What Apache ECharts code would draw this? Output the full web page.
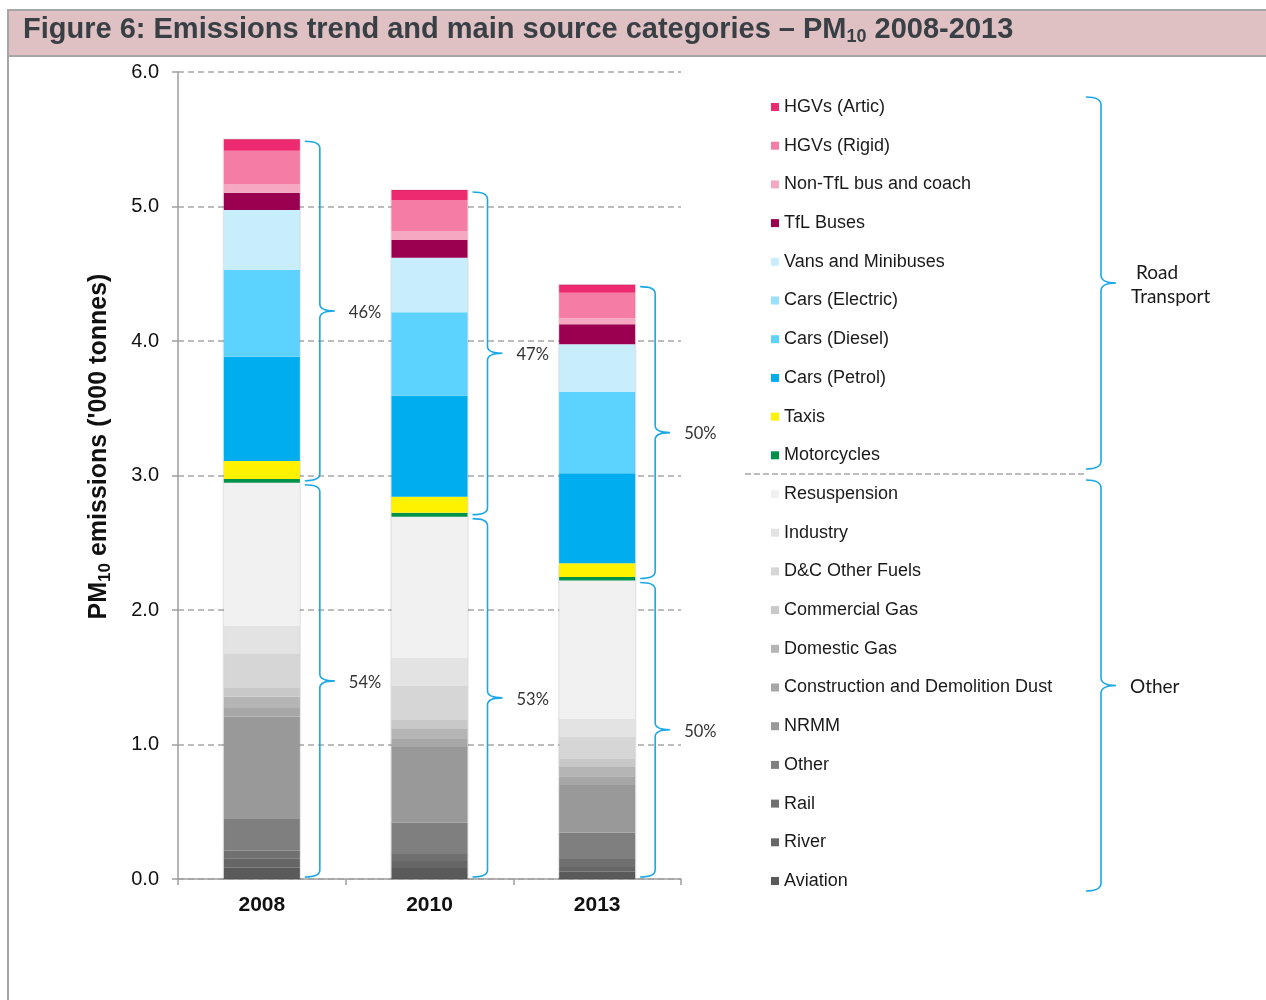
<!DOCTYPE html>
<html>
<head>
<meta charset="utf-8">
<script src="https://cdn.jsdelivr.net/npm/echarts/dist/echarts.min.js"></script>
<style>
  html, body { margin: 0; padding: 0; background: #ffffff; }
  #chart { width: 1266px; height: 1000px; }
</style>
</head>
<body>
<div id="chart"></div>
<script>
// PM10 emissions by source, '000 tonnes
const years = ['2008', '2010', '2013'];

const roadTransport = [
  'HGVs (Artic)', 'HGVs (Rigid)', 'Non-TfL bus and coach', 'TfL Buses',
  'Vans and Minibuses', 'Cars (Electric)', 'Cars (Diesel)', 'Cars (Petrol)',
  'Taxis', 'Motorcycles'
];
const otherSources = [
  'Resuspension', 'Industry', 'D&C Other Fuels', 'Commercial Gas', 'Domestic Gas',
  'Construction and Demolition Dust', 'NRMM', 'Other', 'Rail', 'River', 'Aviation'
];

// values listed in the same order as roadTransport, then otherSources
const pm2008 = [0.085, 0.248, 0.064, 0.129, 0.446, 0, 0.645, 0.775, 0.134, 0.028,
                1.063, 0.205, 0.253, 0.070, 0.084, 0.064, 0.761, 0.236, 0.056, 0.070, 0.084];
const pm2010 = [0.075, 0.230, 0.067, 0.132, 0.406, 0, 0.620, 0.751, 0.119, 0.029,
                1.051, 0.208, 0.253, 0.062, 0.079, 0.060, 0.562, 0.233, 0.052, 0.052, 0.082];
const pm2013 = [0.060, 0.190, 0.045, 0.149, 0.354, 0, 0.605, 0.669, 0.102, 0.026,
                1.029, 0.134, 0.164, 0.059, 0.069, 0.065, 0.355, 0.195, 0.060, 0.035, 0.054];

const yTickLabels = ['0.0', '1.0', '2.0', '3.0', '4.0', '5.0', '6.0'];

const sourceColors = [
  '#ED2A6F', '#F57CA4', '#F6A8C3', '#9B0050', '#C8EEFC', '#9ADFFB', '#5CD2FF', '#00ADEE',
  '#FFF200', '#00914B',
  '#F1F1F1', '#E3E3E3', '#D6D6D6', '#C8C8C8', '#B5B5B5', '#A7A7A7', '#999999', '#7F7F7F',
  '#707070', '#666666', '#5A5A5A'
];

const sources = roadTransport.concat(otherSources);
const byYear = [pm2008, pm2010, pm2013];

const FONT = '"Liberation Sans", Arial, sans-serif';
const SIDE_FONT = '19px Lato, "Open Sans", sans-serif';
const BRACE_BLUE = '#1CA8E6';

// totals and road / other shares for each year
const sum = a => a.reduce((s, v) => s + v, 0);
const shares = byYear.map((vals, i) => {
  const road = sum(vals.slice(0, roadTransport.length));
  const other = sum(vals.slice(roadTransport.length));
  const total = road + other;
  return {
    i, road, other, total,
    roadPct: Math.round(road / total * 100),
    otherPct: Math.round(other / total * 100)
  };
});

// curly brace opening to the left, pointing right at its middle
function bracePath(xHook, xLine, xTip, top, bot, r) {
  const mid = (top + bot) / 2;
  return [
    'M', xHook, top,
    'Q', xLine, top, xLine, top + r,
    'L', xLine, mid - r,
    'Q', xLine, mid, xTip, mid,
    'Q', xLine, mid, xLine, mid + r,
    'L', xLine, bot - r,
    'Q', xLine, bot, xHook, bot
  ].join(' ');
}

function braceShape(xHook, xLine, xTip, top, bot, r) {
  return {
    type: 'path',
    shape: { pathData: bracePath(xHook, xLine, xTip, top, bot, r) },
    style: { fill: null, stroke: BRACE_BLUE, lineWidth: 1.6 }
  };
}

// stacked bars: first series sits at the bottom of the stack
const barSeries = sources.slice().reverse().map(name => {
  const k = sources.indexOf(name);
  return {
    name,
    type: 'bar',
    stack: 'pm10',
    barWidth: 76,
    itemStyle: { color: sourceColors[k] },
    emphasis: { disabled: true },
    data: byYear.map(vals => vals[k])
  };
});

// faint frame around each full bar
const frameSeries = {
  name: 'frame',
  type: 'custom',
  z: 3,
  silent: true,
  encode: { x: 0, y: 1 },
  data: shares.map(s => [s.i, s.total]),
  renderItem: (params, api) => {
    const p0 = api.coord([api.value(0), 0]);
    const p1 = api.coord([api.value(0), api.value(1)]);
    return {
      type: 'rect',
      shape: { x: p0[0] - 38.5, y: p1[1], width: 77, height: p0[1] - p1[1] },
      style: { fill: null, stroke: 'rgba(0,0,0,0.09)', lineWidth: 1.5 }
    };
  }
};

// braces beside each bar with the share of each group
const braceData = [];
shares.forEach(s => {
  braceData.push([s.i, s.other, s.total, s.roadPct]);
  braceData.push([s.i, 0, s.other, s.otherPct]);
});
const braceSeries = {
  name: 'share',
  type: 'custom',
  z: 4,
  silent: true,
  encode: { x: 0, y: [1, 2] },
  data: braceData,
  renderItem: (params, api) => {
    const cat = api.value(0);
    const pHi = api.coord([cat, api.value(2)]);
    const pLo = api.coord([cat, api.value(1)]);
    const cx = pHi[0];
    const top = pHi[1] + 2;
    const bot = pLo[1] - 2;
    const mid = (top + bot) / 2;
    return {
      type: 'group',
      children: [
        braceShape(cx + 43, cx + 58, cx + 73, top, bot, 7),
        {
          type: 'text',
          style: {
            text: api.value(3) + '%',
            x: cx + 87, y: mid + 1.5,
            verticalAlign: 'middle', textAlign: 'left',
            font: '16.5px Lato, "Open Sans", sans-serif',
            fill: '#333333'
          }
        }
      ]
    };
  }
};

// group braces and captions beside the legend
const legendGroupSeries = {
  name: 'groups',
  type: 'custom',
  coordinateSystem: 'none',
  silent: true,
  data: [0],
  renderItem: () => ({
    type: 'group',
    children: [
      {
        type: 'line',
        shape: { x1: 745, y1: 474, x2: 1086, y2: 474 },
        style: { stroke: '#BDBDBD', lineWidth: 2, lineDash: [6, 3] }
      },
      braceShape(1086, 1101, 1116, 97, 469, 8),
      braceShape(1086, 1101, 1116, 480, 891, 8),
      { type: 'text', style: { text: 'Road', x: 1136, y: 273, font: SIDE_FONT, fill: '#1A1A1A', verticalAlign: 'middle' } },
      { type: 'text', style: { text: 'Transport', x: 1131, y: 297, font: SIDE_FONT, fill: '#1A1A1A', verticalAlign: 'middle' } },
      { type: 'text', style: { text: 'Other', x: 1130, y: 687, font: SIDE_FONT, fill: '#1A1A1A', verticalAlign: 'middle' } }
    ]
  })
};

const chart = echarts.init(document.getElementById('chart'), null, { renderer: 'canvas' });

chart.setOption({
  animation: false,
  backgroundColor: '#ffffff',
  title: {
    text: '{a|Figure 6: Emissions trend and main source categories – PM}{s|10}{a| 2008-2013}',
    left: 23,
    top: 13,
    padding: 0,
    textStyle: {
      rich: {
        a: { fontFamily: FONT, fontSize: 29, fontWeight: 'bold', color: '#394045', lineHeight: 33 },
        s: { fontFamily: FONT, fontSize: 18, fontWeight: 'bold', color: '#394045', lineHeight: 18, verticalAlign: 'bottom' }
      }
    }
  },
  grid: {
    left: 178, right: 585, top: 72, bottom: 121,
    containLabel: false
  },
  legend: {
    orient: 'vertical',
    left: 771,
    top: 97,
    padding: 0,
    itemWidth: 8,
    itemHeight: 8,
    itemGap: 18.7,
    icon: 'rect',
    selectedMode: false,
    data: sources,
    textStyle: { fontFamily: FONT, fontSize: 18, color: '#1A1A1A', lineHeight: 20 }
  },
  xAxis: {
    type: 'category',
    data: years,
    boundaryGap: true,
    axisLine: { show: true, lineStyle: { color: '#9E9E9E', width: 1.5 } },
    axisTick: { show: true, length: 6, lineStyle: { color: '#9E9E9E', width: 1.5 } },
    axisLabel: { fontFamily: FONT, fontSize: 21, fontWeight: 'bold', color: '#111111', margin: 16 },
    splitLine: { show: false }
  },
  yAxis: {
    type: 'value',
    min: 0,
    max: 6,
    interval: 1,
    name: '{m|PM}{s|10}{m| emissions (\'000 tonnes)}',
    nameLocation: 'middle',
    nameRotate: 90,
    nameGap: 64,
    nameTextStyle: {
      padding: [0, 0, 0, 58],
      rich: {
        m: { fontFamily: FONT, fontSize: 25, fontWeight: 'bold', color: '#111111', lineHeight: 30 },
        s: { fontFamily: FONT, fontSize: 17, fontWeight: 'bold', color: '#111111', lineHeight: 15, verticalAlign: 'bottom' }
      }
    },
    axisLine: { show: true, lineStyle: { color: '#9E9E9E', width: 1.5 } },
    axisTick: { show: true, length: 6, lineStyle: { color: '#9E9E9E', width: 1.5 } },
    axisLabel: {
      fontFamily: FONT, fontSize: 20, color: '#111111', margin: 19,
      formatter: v => yTickLabels[Math.round(v)]
    },
    splitLine: { show: true, lineStyle: { color: '#A8A8A8', width: 1.5, type: [6, 4] } }
  },
  series: barSeries.concat([frameSeries, braceSeries, legendGroupSeries]),
  graphic: [
    {
      type: 'rect', z: -10, silent: true,
      shape: { x: 8, y: 10, width: 1270, height: 46 },
      style: { fill: '#DFC1C3', stroke: '#A6A6A6', lineWidth: 2 }
    },
    {
      type: 'line', z: -10, silent: true,
      shape: { x1: 8, y1: 56, x2: 8, y2: 1000 },
      style: { stroke: '#A6A6A6', lineWidth: 2 }
    }
  ]
});
</script>
</body>
</html>
